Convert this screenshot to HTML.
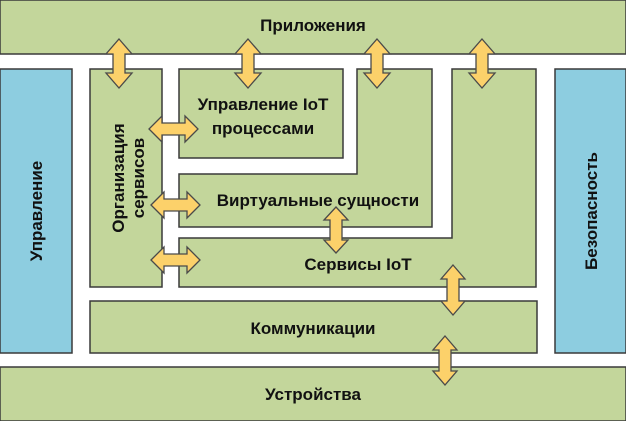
<!DOCTYPE html>
<html><head><meta charset="utf-8"><style>
html,body{margin:0;padding:0;background:#fff;}
svg{display:block;}
text{font-family:"Liberation Sans","DejaVu Sans",sans-serif;font-weight:bold;font-size:17px;fill:#111;}
</style></head><body>
<svg width="626" height="421" viewBox="0 0 626 421" xmlns="http://www.w3.org/2000/svg">
<g stroke="#3a3a3a" stroke-width="1.5" fill="#c3d69b">
<rect x="0" y="0" width="626" height="54"/>
<rect x="0" y="69" width="72" height="284" fill="#8dcde0"/>
<rect x="555" y="69" width="71" height="284" fill="#8dcde0"/>
<rect x="90" y="69" width="72" height="218"/>
<rect x="179" y="69" width="164" height="89"/>
<polygon points="357,69 432,69 432,227 179,227 179,174 357,174"/>
<polygon points="452,69 536,69 536,287 179,287 179,238 452,238"/>
<rect x="90" y="301" width="447" height="52"/>
<rect x="0" y="367" width="626" height="54"/>
</g>
<g fill="#fcd16a" stroke="#4a4a4a" stroke-width="1.3">
<polygon points="119,39 132,54 125,54 125,73 132,73 119,88 106,73 113,73 113,54 106,54"/>
<polygon points="248,39 261,54 254,54 254,73 261,73 248,88 235,73 242,73 242,54 235,54"/>
<polygon points="377,39 390,54 383,54 383,73 390,73 377,88 364,73 371,73 371,54 364,54"/>
<polygon points="482,39 495,54 488,54 488,73 495,73 482,88 469,73 476,73 476,54 469,54"/>
<polygon points="336,207 348,220 342,220 342,240 348,240 336,253 324,240 330,240 330,220 324,220"/>
<polygon points="453,265 465,279 459,279 459,301 465,301 453,315 441,301 447,301 447,279 441,279"/>
<polygon points="445,336 457,350 451,350 451,371 457,371 445,385 433,371 439,371 439,350 433,350"/>
<polygon points="149,129 162,116 162,123 185,123 185,116 198,129 185,142 185,135 162,135 162,142"/>
<polygon points="151,205 164,192 164,199 187,199 187,192 200,205 187,218 187,211 164,211 164,218"/>
<polygon points="151,260 164,247 164,254 187,254 187,247 200,260 187,273 187,266 164,266 164,273"/>
</g>
<text x="263" y="110" text-anchor="middle">Управление IoT</text>
<text x="263" y="134" text-anchor="middle">процессами</text>
<text x="313" y="31" text-anchor="middle">Приложения</text>
<text x="318" y="206" text-anchor="middle">Виртуальные сущности</text>
<text x="358" y="270" text-anchor="middle">Сервисы IoT</text>
<text x="313" y="334" text-anchor="middle">Коммуникации</text>
<text x="313" y="400" text-anchor="middle">Устройства</text>
<text transform="translate(42,211) rotate(-90)" text-anchor="middle">Управление</text>
<text transform="translate(597,211) rotate(-90)" text-anchor="middle">Безопасность</text>
<text transform="translate(124,178) rotate(-90)" text-anchor="middle">Организация</text>
<text transform="translate(144,178) rotate(-90)" text-anchor="middle">сервисов</text>
</svg>
</body></html>
